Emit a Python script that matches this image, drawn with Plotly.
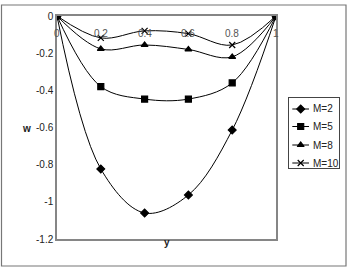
import plotly.graph_objects as go

y_pos = [0, 0.2, 0.4, 0.6, 0.8, 1.0]
w_m2 = [0, -0.823, -1.06, -0.963, -0.614, 0]
w_m5 = [0, -0.38, -0.447, -0.447, -0.36, 0]
w_m8 = [0, -0.177, -0.156, -0.18, -0.22, 0]
w_m10 = [0, -0.118, -0.08, -0.095, -0.156, 0]
series_names = ["M=2", "M=5", "M=8", "M=10"]
x_ticks = [0, 0.2, 0.4, 0.6, 0.8, 1]
x_tick_labels = ["0", "0.2", "0.4", "0.6", "0.8", "1"]
y_ticks = [0, -0.2, -0.4, -0.6, -0.8, -1, -1.2]
y_tick_labels = ["0", "-0.2", "-0.4", "-0.6", "-0.8", "-1", "-1.2"]

symbols = ["diamond", "square", "triangle-up", "x-thin-open"]
msize = 6

W, H = 349, 270
ML, MR, MT, MB = 57, 0, 16, 31
PW = W - ML - MR  # plot width in px
PH = H - MT - MB

def px_x(p):
    return (p - ML) / PW

def px_y(p):
    return (H - MB - p) / PH

fig = go.Figure()
for name, vals, sym in zip(series_names, [w_m2, w_m5, w_m8, w_m10], symbols):
    fig.add_trace(go.Scatter(
        x=y_pos, y=vals, name=name, mode="lines+markers", showlegend=False,
        line=dict(color="black", width=1, shape="spline", smoothing=1.0),
        marker=dict(symbol=sym, size=msize, color="black",
                    line=dict(color="black", width=1.2)),
        xaxis="x", yaxis="y",
    ))

# legend drawn on its own small axes (pixel-unit ranges)
leg_rows = [109, 126.5, 145, 163]
for name, sym, ry in zip(series_names, symbols, leg_rows):
    fig.add_trace(go.Scatter(x=[292.3, 309], y=[ry, ry], mode="lines", showlegend=False,
                             line=dict(color="black", width=1), xaxis="x2", yaxis="y2",
                             hoverinfo="skip"))
    fig.add_trace(go.Scatter(x=[300.7], y=[ry], mode="markers", showlegend=False,
                             marker=dict(symbol=sym, size=msize, color="black",
                                         line=dict(color="black", width=1.2)),
                             xaxis="x2", yaxis="y2", hoverinfo="skip"))
    fig.add_annotation(text=name, x=310.5, y=ry, xref="x2", yref="y2", xanchor="left",
                       showarrow=False, font=dict(size=10, color="#222"))

fig.update_layout(
    width=W, height=H,
    margin=dict(l=ML, r=MR, t=MT, b=MB, autoexpand=False),
    paper_bgcolor="white", plot_bgcolor="rgba(0,0,0,0)",
    font=dict(family="Liberation Sans, Arial, sans-serif", size=10, color="#222"),
    showlegend=False,
    xaxis=dict(domain=[0, px_x(276)], range=[0, 1], tickvals=x_ticks, showticklabels=False,
               ticks="", showgrid=False, zeroline=False,
               showline=True, mirror=True, linecolor="#868686", linewidth=1.5,
               fixedrange=True, anchor="y"),
    yaxis=dict(domain=[0, 1], range=[-1.2, 0], tickvals=y_ticks, ticktext=y_tick_labels,
               ticks="", showgrid=False, zeroline=False,
               showline=True, mirror=True, linecolor="#868686", linewidth=1.5,
               tickfont=dict(size=10, color="#222"), fixedrange=True, anchor="x"),
    xaxis2=dict(domain=[px_x(288.5), px_x(339)], range=[288.5, 339], visible=True,
                showticklabels=False, ticks="", showgrid=False, zeroline=False,
                showline=True, mirror=True, linecolor="#444", linewidth=1,
                fixedrange=True, anchor="y2"),
    yaxis2=dict(domain=[px_y(168), px_y(98)], range=[168, 98],
                showticklabels=False, ticks="", showgrid=False, zeroline=False,
                showline=True, mirror=True, linecolor="#444", linewidth=1,
                fixedrange=True, anchor="x2"),
)

# x tick labels sit just below the y=0 axis line, inside the plot
for xv, lab in zip(x_ticks, x_tick_labels):
    fig.add_annotation(text=lab, x=xv, y=0, xref="x", yref="y", yshift=-17,
                       showarrow=False, font=dict(size=10, color="#555"))

fig.add_shape(type="rect", xref="paper", yref="paper",
              x0=px_x(1.5), x1=px_x(346), y0=px_y(266), y1=px_y(5),
              line=dict(color="#777", width=1.2), layer="below")

fig.add_annotation(text="<b>w</b>", xref="paper", yref="paper",
                   x=px_x(20), y=px_y(128), showarrow=False, font=dict(size=10, color="#222"))
fig.add_annotation(text="<b>y</b>", xref="paper", yref="paper",
                   x=px_x(167), y=px_y(250), showarrow=False, font=dict(size=10, color="#222"))

fig.write_html("out.html")
